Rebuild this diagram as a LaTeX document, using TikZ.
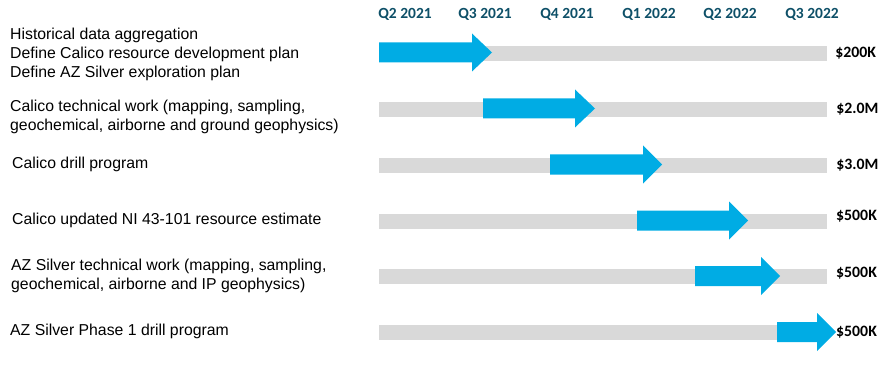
\documentclass[tikz,border=0pt]{standalone}
\usepackage{fontspec}
\setmainfont{Liberation Sans}
\newfontfamily\calibri{Carlito}
\usetikzlibrary{positioning}
\definecolor{arrowblue}{RGB}{0,172,228}
\definecolor{bargray}{RGB}{217,217,217}
\definecolor{quarterteal}{RGB}{14,80,104}
\tikzset{
  quarter/.style={font=\calibri\bfseries\fontsize{15.5}{18}\selectfont, text=quarterteal, inner sep=0pt},
  task/.style={anchor=west, align=left, font=\fontsize{15.8}{19}\selectfont, inner sep=0pt},
  cost/.style={anchor=west, font=\calibri\bfseries\fontsize{15.8}{18}\selectfont, inner sep=0pt},
  bar/.style={fill=bargray, minimum width=448pt, minimum height=15pt, inner sep=0pt},
  spanarrow/.style={fill=arrowblue}
}
\newcommand{\barx}{603}
\newcommand{\spanfill}[4]{% row y, start, head base, tip
\fill[spanarrow] (#2,#1-10) -- (#3,#1-10) -- (#3,#1-19) -- (#4,#1) -- (#3,#1+19) -- (#3,#1+10) -- (#2,#1+10) -- cycle;
}

\begin{document}
\begin{tikzpicture}[x=1pt, y=-1pt]
\useasboundingbox (0,0) rectangle (890,366);

% quarters
\node[quarter] (q1) at (405,14) {Q2 2021};
\node[quarter] (q2) at (485,14) {Q3 2021};
\node[quarter] (q3) at (567,14) {Q4 2021};
\node[quarter] (q4) at (649,14) {Q1 2022};
\node[quarter] (q5) at (730,14) {Q2 2022};
\node[quarter] (q6) at (812,14) {Q3 2022};

% tasks
\node[task] (t1) at (10,54) {Historical data aggregation\\Define Calico resource development plan\\Define AZ Silver exploration plan};
\node[task] (t2) at (10,116.5) {Calico technical work (mapping, sampling,\\geochemical, airborne and ground geophysics)};
\node[task] (t3) at (12,164) {Calico drill program};
\node[task] (t4) at (12,220) {Calico updated NI 43-101 resource estimate};
\node[task] (t5) at (11,275.5) {AZ Silver technical work (mapping, sampling,\\geochemical, airborne and IP geophysics)};
\node[task] (t6) at (10,331) {AZ Silver Phase 1 drill program};

% timeline bars
\node[bar] (b1) at (\barx,53.5) {};
\node[bar] (b2) at (\barx,109.5) {};
\node[bar] (b3) at (\barx,165.5) {};
\node[bar] (b4) at (\barx,221.5) {};
\node[bar] (b5) at (\barx,276.5) {};
\node[bar] (b6) at (\barx,332.5) {};

% spans
\spanfill{52.5}{379}{472}{492}
\spanfill{108.5}{483}{575}{595}
\spanfill{164.5}{550}{643}{662}
\spanfill{220.5}{637}{729}{748}
\spanfill{276}{695}{761}{780}
\spanfill{332}{777}{817}{836}

% costs
\node[cost, right=8pt of b1] (c1) {\$200K};
\node[cost, right=9pt of b2] (c2) {\$2.0M};
\node[cost, right=9pt of b3] (c3) {\$3.0M};
\node[cost] (c4) at (836,216) {\$500K};
\node[cost] (c5) at (836,273) {\$500K};
\node[cost] (c6) at (836,332) {\$500K};
\end{tikzpicture}
\end{document}
